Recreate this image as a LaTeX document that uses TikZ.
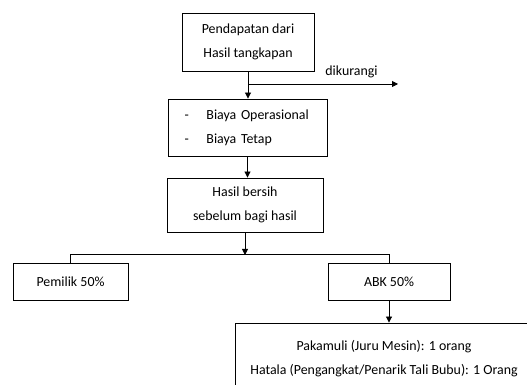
\documentclass[tikz,border=0pt]{standalone}
\usepackage{fontspec}
\setmainfont{Carlito}
\usetikzlibrary{arrows.meta, positioning, calc}

\begin{document}
\begin{tikzpicture}[
    x=1pt, y=1pt, line width=0.9pt,
    font=\fontsize{13.9}{24}\selectfont,
    box/.style={draw, align=center, inner sep=0pt, anchor=center},
    arr/.style={-{Triangle[width=6pt,length=6pt]}}
]
\useasboundingbox (0,0) rectangle (527,385);
% Boxes
\node[box, minimum width=132, minimum height=58] (inc) at (248,343)
     {Pendapatan dari\\Hasil tangkapan};
\node[box, minimum width=159, minimum height=57, text width=126, align=left,
      inner xsep=11pt] (cost) at (247.5,257.5)
     {\makebox[22pt][l]{-}Biaya Operasional\\\makebox[22pt][l]{-}Biaya Tetap};
\node[box, minimum width=156, minimum height=54] (net) at (245,180)
     {Hasil bersih\\sebelum bagi hasil};
\node[box, minimum width=115, minimum height=37] (owner) at (70.5,103.5)
     {Pemilik 50\%};
\node[box, minimum width=122, minimum height=37] (crew) at (389,103.5)
     {ABK 50\%};
\node[box, minimum width=298, minimum height=71] (list) at (384,26.5)
     {Pakamuli (Juru Mesin): 1 orang\\Hatala (Pengangkat/Penarik Tali Bubu): 1 Orang};

% Connectors
\coordinate (cut) at (inc.south |- 0,301);
\coordinate (cutend) at (398,301);
\draw[arr] (inc.south) -- (inc.south |- cost.north);
\draw[arr] (cut) -- (cutend) node[pos=0.69, above=2pt] (less) {dikurangi};
\draw[arr] (cost.south) -- (cost.south |- net.north);
\coordinate (split) at (net.south |- 0,130);
\draw[arr] (net.south) -- (split);
\draw (owner.north) -- ++(0,8) -| (crew.north);
\draw[arr] (crew.south) -- (crew.south |- list.north);
\end{tikzpicture}
\end{document}
